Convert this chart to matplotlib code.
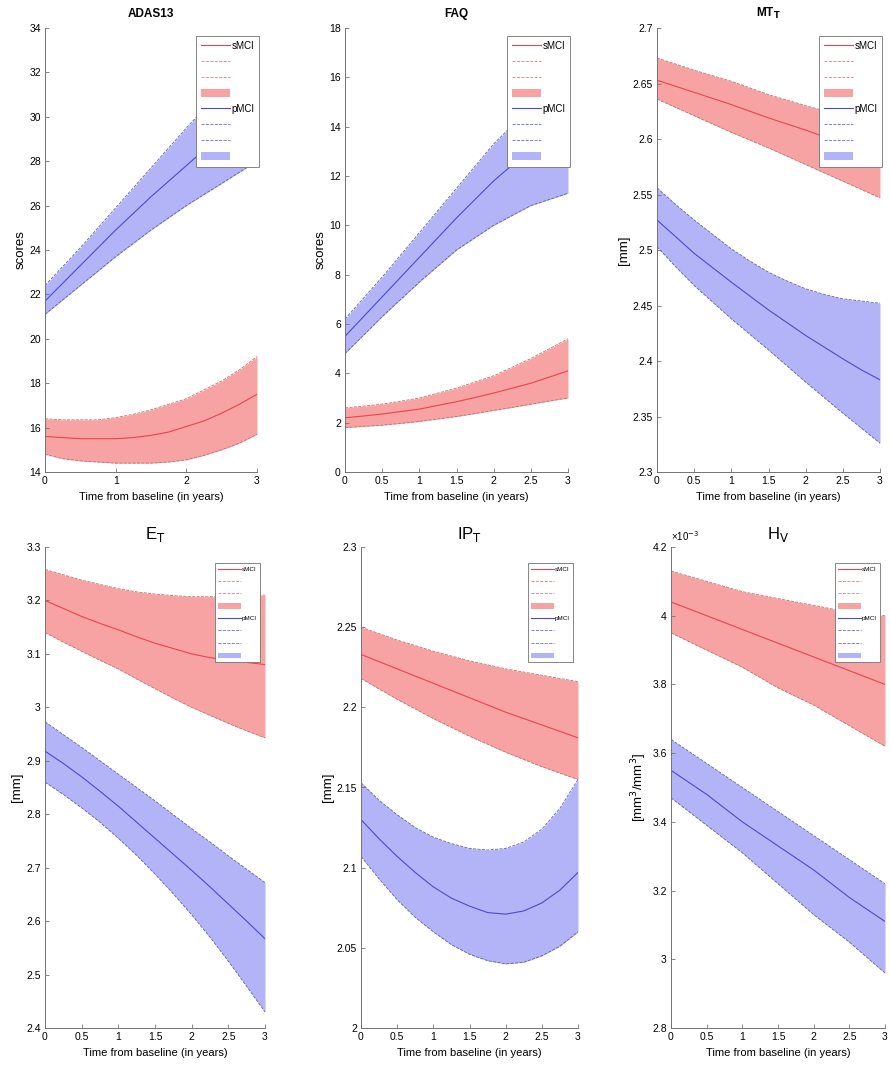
import matplotlib
matplotlib.use("Agg")
import matplotlib.pyplot as plt
from matplotlib.patches import Patch
from matplotlib.lines import Line2D

plt.rcParams["font.family"] = ["Liberation Sans", "DejaVu Sans"]

# time grid (years from baseline)
t = [0, 0.25, 0.5, 0.75, 1, 1.25, 1.5, 1.75, 2, 2.25, 2.5, 2.75, 3]

# ADAS13
adas_s_mean = [15.6, 15.55, 15.5, 15.5, 15.5, 15.55, 15.65, 15.8, 16.05, 16.3, 16.65, 17.05, 17.5]
adas_s_lo = [14.8, 14.6, 14.5, 14.45, 14.4, 14.4, 14.4, 14.45, 14.55, 14.75, 15.0, 15.3, 15.7]
adas_s_hi = [16.4, 16.35, 16.35, 16.35, 16.45, 16.6, 16.8, 17.05, 17.3, 17.7, 18.1, 18.6, 19.2]
adas_p_mean = [21.7, 22.5, 23.3, 24.1, 24.9, 25.65, 26.4, 27.1, 27.8, 28.5, 29.2, 29.85, 30.5]
adas_p_lo = [21.1, 21.75, 22.4, 23.05, 23.7, 24.3, 24.9, 25.45, 26.0, 26.5, 27.0, 27.5, 28.0]
adas_p_hi = [22.4, 23.25, 24.1, 25.0, 25.9, 26.8, 27.7, 28.6, 29.5, 30.35, 31.2, 32.05, 32.9]

# FAQ
faq_s_mean = [2.2, 2.27, 2.35, 2.45, 2.55, 2.7, 2.85, 3.02, 3.2, 3.4, 3.6, 3.85, 4.1]
faq_s_lo = [1.8, 1.85, 1.9, 1.97, 2.05, 2.15, 2.25, 2.37, 2.5, 2.62, 2.75, 2.88, 3.0]
faq_s_hi = [2.6, 2.67, 2.75, 2.87, 3.0, 3.2, 3.4, 3.65, 3.9, 4.25, 4.6, 5.0, 5.4]
faq_p_mean = [5.5, 6.3, 7.1, 7.9, 8.7, 9.5, 10.3, 11.05, 11.8, 12.45, 13.1, 13.7, 14.3]
faq_p_lo = [4.8, 5.55, 6.3, 7.0, 7.7, 8.35, 9.0, 9.5, 10.0, 10.4, 10.8, 11.05, 11.3]
faq_p_hi = [6.2, 7.05, 7.9, 8.8, 9.7, 10.6, 11.5, 12.4, 13.3, 14.05, 14.8, 15.4, 16.0]

# MT_T thickness [mm]
mt_s_mean = [2.653, 2.6475, 2.642, 2.6365, 2.631, 2.625, 2.619, 2.6135, 2.608, 2.602, 2.596, 2.5905, 2.585]
mt_s_lo = [2.636, 2.6285, 2.621, 2.6135, 2.606, 2.599, 2.592, 2.5845, 2.577, 2.5695, 2.562, 2.5545, 2.547]
mt_s_hi = [2.673, 2.6675, 2.662, 2.657, 2.652, 2.646, 2.640, 2.635, 2.630, 2.6255, 2.621, 2.6165, 2.612]
mt_p_mean = [2.527, 2.512, 2.497, 2.484, 2.471, 2.4585, 2.446, 2.4345, 2.423, 2.4125, 2.402, 2.392, 2.383]
mt_p_lo = [2.503, 2.485, 2.468, 2.453, 2.438, 2.424, 2.410, 2.3955, 2.381, 2.367, 2.353, 2.3395, 2.326]
mt_p_hi = [2.556, 2.541, 2.527, 2.514, 2.501, 2.490, 2.480, 2.472, 2.465, 2.460, 2.456, 2.454, 2.452]

# E_T thickness [mm]
et_s_mean = [3.200, 3.185, 3.170, 3.157, 3.145, 3.132, 3.120, 3.110, 3.100, 3.093, 3.088, 3.084, 3.080]
et_s_lo = [3.140, 3.122, 3.105, 3.088, 3.072, 3.053, 3.035, 3.017, 3.000, 2.985, 2.970, 2.956, 2.943]
et_s_hi = [3.258, 3.248, 3.238, 3.230, 3.222, 3.216, 3.212, 3.209, 3.207, 3.207, 3.207, 3.208, 3.210]
et_p_mean = [2.918, 2.895, 2.870, 2.843, 2.815, 2.785, 2.755, 2.725, 2.695, 2.664, 2.632, 2.600, 2.567]
et_p_lo = [2.860, 2.837, 2.812, 2.785, 2.755, 2.723, 2.688, 2.651, 2.612, 2.570, 2.525, 2.478, 2.430]
et_p_hi = [2.973, 2.949, 2.925, 2.900, 2.875, 2.850, 2.825, 2.799, 2.773, 2.748, 2.722, 2.697, 2.672]

# IP_T thickness [mm]
ip_s_mean = [2.233, 2.2285, 2.224, 2.2195, 2.215, 2.2105, 2.206, 2.2015, 2.197, 2.193, 2.189, 2.185, 2.181]
ip_s_lo = [2.218, 2.2115, 2.205, 2.199, 2.193, 2.1875, 2.182, 2.177, 2.172, 2.1675, 2.163, 2.159, 2.155]
ip_s_hi = [2.250, 2.246, 2.242, 2.2385, 2.235, 2.232, 2.229, 2.2265, 2.224, 2.222, 2.220, 2.218, 2.216]
ip_p_mean = [2.130, 2.118, 2.107, 2.097, 2.088, 2.081, 2.076, 2.072, 2.071, 2.073, 2.078, 2.086, 2.097]
ip_p_lo = [2.107, 2.093, 2.080, 2.069, 2.060, 2.052, 2.046, 2.042, 2.040, 2.041, 2.045, 2.051, 2.060]
ip_p_hi = [2.153, 2.142, 2.133, 2.125, 2.119, 2.115, 2.112, 2.111, 2.112, 2.116, 2.124, 2.137, 2.155]

# H_V volume ratio, in units of 1e-3
HV_SCALE = 1e-3
hv_s_mean = [4.04, 4.02, 4.00, 3.98, 3.96, 3.94, 3.92, 3.90, 3.88, 3.86, 3.84, 3.82, 3.80]
hv_s_lo = [3.95, 3.925, 3.90, 3.875, 3.85, 3.82, 3.79, 3.765, 3.74, 3.71, 3.68, 3.65, 3.62]
hv_s_hi = [4.13, 4.115, 4.10, 4.085, 4.07, 4.06, 4.05, 4.04, 4.03, 4.02, 4.01, 4.005, 4.00]
hv_p_mean = [3.55, 3.515, 3.48, 3.44, 3.40, 3.365, 3.33, 3.295, 3.26, 3.22, 3.18, 3.145, 3.11]
hv_p_lo = [3.47, 3.43, 3.39, 3.35, 3.31, 3.265, 3.22, 3.175, 3.13, 3.09, 3.05, 3.005, 2.96]
hv_p_hi = [3.64, 3.605, 3.57, 3.535, 3.50, 3.465, 3.43, 3.395, 3.36, 3.325, 3.29, 3.255, 3.22]


def sc(vals, k=HV_SCALE):
    return [v * k for v in vals]


half = [0, 0.5, 1, 1.5, 2, 2.5, 3]
panels = [
    ("ADAS13", "scores", (14, 34), 2, [0, 1, 2, 3],
     (adas_s_mean, adas_s_lo, adas_s_hi, adas_p_mean, adas_p_lo, adas_p_hi)),
    ("FAQ", "scores", (0, 18), 2, half,
     (faq_s_mean, faq_s_lo, faq_s_hi, faq_p_mean, faq_p_lo, faq_p_hi)),
    ("MT$_\\mathbf{T}$", "[mm]", (2.3, 2.7), 0.05, half,
     (mt_s_mean, mt_s_lo, mt_s_hi, mt_p_mean, mt_p_lo, mt_p_hi)),
    ("E$_\\mathrm{T}$", "[mm]", (2.4, 3.3), 0.1, half,
     (et_s_mean, et_s_lo, et_s_hi, et_p_mean, et_p_lo, et_p_hi)),
    ("IP$_\\mathrm{T}$", "[mm]", (2.0, 2.3), 0.05, half,
     (ip_s_mean, ip_s_lo, ip_s_hi, ip_p_mean, ip_p_lo, ip_p_hi)),
    ("H$_\\mathrm{V}$", "[mm$^3$/mm$^3$]", (2.8e-3, 4.2e-3), 0.2e-3, half,
     tuple(sc(v) for v in (hv_s_mean, hv_s_lo, hv_s_hi, hv_p_mean, hv_p_lo, hv_p_hi))),
]

W, H = 890, 1066
# pixel boxes (left, top, right, bottom)
boxes = [(45, 28, 257, 472), (345, 28, 568, 472), (657, 28, 880, 472),
         (45, 547, 265, 1028), (361, 547, 578, 1028), (671, 547, 885, 1028)]

RED, BLUE = "#e8454f", "#4c4cc8"
RED_F, BLUE_F = "#f7a3a3", "#b3b3f7"

fig = plt.figure(figsize=(8.9, 10.66), dpi=100)

for i, (title, ylab, ylim, ystep, xt, d) in enumerate(panels):
    l, tp, r, b = boxes[i]
    ax = fig.add_axes([l / W, 1 - b / H, (r - l) / W, (b - tp) / H])
    s_m, s_lo, s_hi, p_m, p_lo, p_hi = d
    ax.fill_between(t, s_lo, s_hi, color=RED_F, lw=0)
    ax.fill_between(t, p_lo, p_hi, color=BLUE_F, lw=0)
    for y in (s_lo, s_hi):
        ax.plot(t, y, ls="--", color="#c07070", lw=0.6)
    for y in (p_lo, p_hi):
        ax.plot(t, y, ls="--", color="#6060a0", lw=0.6)
    ax.plot(t, s_m, color=RED, lw=0.8)
    ax.plot(t, p_m, color=BLUE, lw=0.8)

    ax.set_xlim(0, 3)
    ax.set_ylim(*ylim)
    ax.set_xticks(xt)
    ax.set_xticklabels([f"{v:g}" for v in xt])
    n = int(round((ylim[1] - ylim[0]) / ystep))
    ax.set_yticks([ylim[0] + k * ystep for k in range(n + 1)])
    if i == 5:
        ax.yaxis.set_major_formatter(
            plt.FuncFormatter(lambda v, p: f"{round(v / HV_SCALE, 3):g}"))
        ax.text(0.0, 1.008, "×10$^{-3}$", transform=ax.transAxes,
                fontsize=7, ha="left", va="bottom")
    else:
        ax.yaxis.set_major_formatter(plt.FuncFormatter(lambda v, p: f"{v:g}"))

    for sp in ("top", "right"):
        ax.spines[sp].set_visible(False)
    for sp in ("left", "bottom"):
        ax.spines[sp].set_color("0.45")
        ax.spines[sp].set_linewidth(0.7)
    ax.tick_params(direction="in", length=3, width=0.6, color="0.45",
                   labelsize=7.5, pad=3)
    ax.set_xlabel("Time from baseline (in years)", fontsize=8)
    ax.set_ylabel(ylab, fontsize=9.5, labelpad=2)
    if i < 3:
        ax.set_title(title, fontsize=8.5, fontweight="bold", pad=8)
    else:
        ax.set_title(title, fontsize=12, pad=6)

    handles = [
        Line2D([], [], color=RED, lw=0.8),
        Line2D([], [], color="#e08080", lw=0.6, ls="--"),
        Line2D([], [], color="#e08080", lw=0.6, ls="--"),
        Patch(facecolor=RED_F, edgecolor="none"),
        Line2D([], [], color=BLUE, lw=0.8),
        Line2D([], [], color="#6a6ae0", lw=0.6, ls="--"),
        Line2D([], [], color="#6a6ae0", lw=0.6, ls="--"),
        Patch(facecolor=BLUE_F, edgecolor="none"),
    ]
    labels = ["sMCI", "", "", "", "pMCI", "", "", ""]
    small = i >= 3
    leg = ax.legend(handles, labels, loc="upper right",
                    bbox_to_anchor=(0.975, 0.966) if small else (1.01, 0.982),
                    fontsize=4.5 if small else 7,
                    handlelength=3.6 if small else 3.0,
                    handleheight=0.9,
                    handletextpad=0.1,
                    labelspacing=1.05 if small else 0.6,
                    borderpad=0.5, borderaxespad=0.0,
                    fancybox=False, framealpha=1.0)
    leg.get_frame().set_edgecolor("0.45")
    leg.get_frame().set_linewidth(0.6)

fig.savefig("out.png", dpi=100)
